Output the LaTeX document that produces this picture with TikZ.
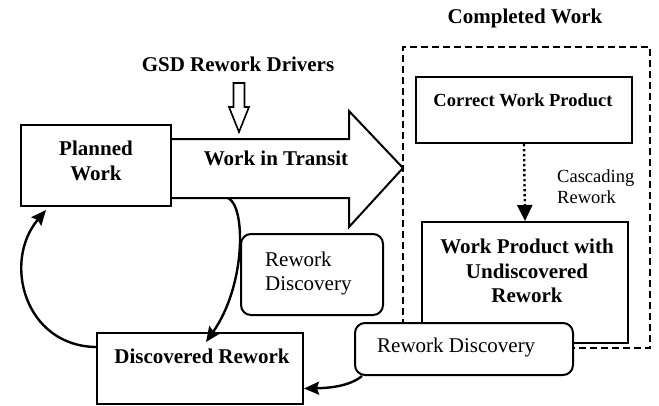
\documentclass[tikz,border=0pt]{standalone}
\usepackage{fontspec}
\setmainfont{Liberation Serif}
\usetikzlibrary{arrows.meta,calc}
\begin{document}
\begin{tikzpicture}[x=1pt,y=-1pt,
  lw/.style={line width=2pt},
  clw/.style={line width=2.4pt},
  box/.style={draw,lw,inner sep=0pt,fill=white},
  rbox/.style={draw,lw,rounded corners=10pt,inner sep=0pt,fill=white},
  bigtxt/.style={font=\fontsize{21}{24.5}\selectfont\bfseries,align=center,inner sep=0pt},
  normtxt/.style={font=\fontsize{21}{24}\selectfont,align=left,inner sep=0pt},
  smalltxt/.style={font=\fontsize{18.5}{21}\selectfont,align=left,inner sep=0pt},
  smallbold/.style={font=\fontsize{18.5}{21}\selectfont\bfseries,inner sep=0pt},
  tip/.style={-{Stealth[length=15pt,width=13pt,inset=2pt]}},
  tri/.style={-{Triangle[length=16pt,width=15pt]}},
]
\useasboundingbox (0,0) rectangle (659,405);

% big arrow (work in transit)
\draw[lw,fill=white,line join=miter] (171,139) -- (349,139) -- (349,111) -- (403,168) -- (349,227) -- (349,198) -- (171,198);
\node[bigtxt] (wit) at (276,158) {Work in Transit};

% planned work
\node[box,minimum width=150,minimum height=81] (pw) at (96,165.5) {};
\node[bigtxt] (pwt) at (96,161) {Planned\\Work};

% GSD rework drivers
\node[bigtxt] (gsd) at (238,64) {GSD Rework Drivers};
\draw[line width=1.6pt,fill=white,line join=miter] (233.5,83) -- (244.5,83) -- (244.5,107) -- (249,107) -- (239,132) -- (229,107) -- (233.5,107) -- cycle;

% completed work
\node[bigtxt] (cwt) at (525,18) {Completed Work};
\node[draw,lw,dash pattern=on 7pt off 4pt,minimum width=247,minimum height=301,inner sep=0pt] (cw) at (526.5,197.5) {};

\node[box,minimum width=216,minimum height=66] (cwp) at (524,110) {};
\node[smallbold] (cwpt) at (523,100) {Correct Work Product};

\node[box,minimum width=206,minimum height=121] (wpu) at (525,282.5) {};
\node[bigtxt] (wput) at (527,271) {Work Product with\\Undiscovered\\Rework};

\draw[line width=2.4pt,dash pattern=on 2.4pt off 2.6pt,tri] (cwp.south) -- (wpu.north);
\node[smalltxt,anchor=west] (casc) at (557,187) {Cascading\\Rework};

% rework discovery boxes
\node[rbox,minimum width=142,minimum height=81] (rd1) at (312,274.5) {};
\node[normtxt,anchor=west] (rd1t) at (265,273) {Rework\\Discovery};

\node[box,minimum width=206,minimum height=71] (dr) at (200,368.5) {};
\node[bigtxt] (drt) at (202,356) {Discovered Rework};

\node[rbox,minimum width=218,minimum height=52] (rd2) at (464,349) {};
\node[normtxt,anchor=west] (rd2t) at (377,347) {Rework Discovery};

% connectors
\coordinate (wa) at (228,198);
\draw[clw,tip] (wa) .. controls (246,206) and (246,285) .. ([xshift=6pt,yshift=-10pt]dr.north);
\draw[clw,tip] ([yshift=-15pt]dr.north west) .. controls (25,346) and (2,262) .. ([xshift=-50pt,yshift=-3pt]pw.south);
\draw[clw,tip] ([xshift=8pt]rd2.south west) .. controls (350,386) and (330,388) .. ([yshift=-20pt]dr.east);
\end{tikzpicture}
\end{document}
